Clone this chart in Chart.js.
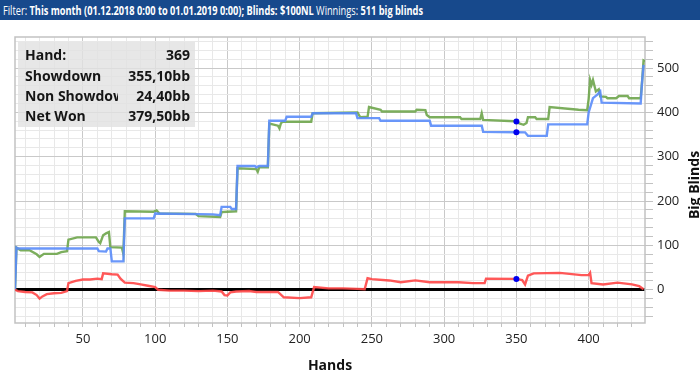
<!DOCTYPE html>
<html><head><meta charset="utf-8">
<script src="https://cdn.jsdelivr.net/npm/chart.js@4.4.1/dist/chart.umd.min.js"></script>
<style>
html,body{margin:0;padding:0;background:#fff;width:700px;height:381px;overflow:hidden;font-family:"Open Sans",sans-serif}
#hdr{position:absolute;left:0;top:0;width:700px;height:20px;background:#17498c;color:#fff;font-size:13px;line-height:20px;white-space:nowrap;overflow:hidden}
#hdrtxt{position:absolute;left:3px;top:0;transform-origin:0 50%;display:inline-block}
#hdrtxt b{font-weight:700}
#wrap{position:absolute;left:0;top:20px;width:700px;height:361px}
#info{position:absolute;left:18px;top:42px;width:177px;height:85px;background:rgba(226,226,226,0.82)}
.row{position:absolute;left:7px;width:165px;height:20px;line-height:20px;font-weight:700;font-size:14px;color:#151515}
.row .k{position:absolute;left:0;top:0;width:93px;overflow:hidden;white-space:nowrap}
.row .v{position:absolute;right:0;top:0;text-align:right}
</style>
</head><body>
<div id="hdr"><span id="hdrtxt">Filter: <b>This month (01.12.2018 0:00 to 01.01.2019 0:00); Blinds: $100NL</b> Winnings: <b>511 big blinds</b></span></div>
<div id="wrap"><canvas id="c" width="700" height="361"></canvas></div>
<div id="info">
 <div class="row" style="top:3px"><span class="k">Hand:</span><span class="v">369</span></div>
 <div class="row" style="top:24px"><span class="k">Showdown</span><span class="v">355,10bb</span></div>
 <div class="row" style="top:44px"><span class="k">Non Showdown</span><span class="v">24,40bb</span></div>
 <div class="row" style="top:64px"><span class="k">Net Won</span><span class="v">379,50bb</span></div>
</div>
<script>
// Showdown winnings (blue)
const showdownHands  = [3,4,5,60,61,66,67,69,70,78,79,99,100,140,145,146,152,153,156,157,169,170,172,178,179,190,191,208,209,239,240,255,256,290,291,326,327,350,356,358,371,372,399,400,403,406,408,409,436,437,438];
const showdownValues = [0,95,93,93,87,86,93,93,64,64,161,161,172,170,168,187,187,182,182,279,279,276,279,279,381,381,390,390,398,398,387,387,381,381,370,370,356,355.1,355,347,347,373,373,400,432,440,447,422,420,470,507];
// Non-showdown winnings (red)
const nonShowdownHands  = [3,5,10,15,18,20,22,25,30,35,39,40,45,50,55,60,63,64,70,74,76,79,85,90,95,100,102,110,120,130,140,146,148,150,152,156,165,170,185,189,200,208,210,220,230,240,245,247,250,262,270,280,290,310,320,328,329,350,354,356,358,362,380,395,400,401,402,410,420,430,435,438];
const nonShowdownValues = [0,-3,-5,-6,-12,-20,-15,-10,-8,-7,-3,15,20,23,23,25,24,37,35,34,25,16,15,12,9,6,0,-2,-2,-3,-2,-4,-12,-13,-6,-4,-3,-5,-5,-17,-19,-17,6,3,3,2,1,26,24,21,17,21,17,17,15,15,25,24.4,22,12,32,37,38,33,33,38,15,12,16,12,8,1];
// Net won (green)
const netHands  = [3,4,7,13,18,20,23,32,35,39,40,46,59,61,62,64,66,68,69,77,78,79,99,101,103,128,130,145,146,150,156,157,170,171,172,178,179,185,186,187,188,208,209,240,242,247,248,256,257,280,281,287,288,290,311,312,325,326,327,349,350,352,355,357,358,363,364,372,373,393,399,400,401,402,403,405,407,408,412,413,419,421,427,428,436,437,438,439];
const netValues = [0,95,89,89,80,74,81,81,85,87,113,118,118,108,105,123,127,130,96,95,81,177,176,179,172,171,166,164,175,176,177,274,272,266,276,276,375,370,364,375,379,379,398,400,389,390,412,406,402,402,406,405,394,389,389,385,385,398,383,380,379.5,375,372,376,389,389,385,385,412,406,405,430,473,462,473,447,452,436,435,432,432,437,437,432,432,470,517,515];
const markerHand = 350;
const xTickValues = [10,20,30,40,50,60,70,80,90,100,110,120,130,140,150,160,170,180,190,200,210,220,230,240,250,260,270,280,290,300,310,320,330,340,350,360,370,380,390,400,410,420,430];
const yTickValues = [-60,-40,-20,0,20,40,60,80,100,120,140,160,180,200,220,240,260,280,300,320,340,360,380,400,420,440,460,480,500,520,540,560];

function pts(h, v){ return h.map((x,i)=>({x:x, y:v[i]})); }
const FONT = '"Open Sans", sans-serif';
function ds(label, h, v, color){
  return {label, data: pts(h,v), borderColor: color, borderWidth: 2.4, tension: 0,
    pointRadius: c => (c.raw && c.raw.x === markerHand) ? 3 : 0,
    pointBackgroundColor: '#0000ee', pointBorderColor: '#0000ee', pointBorderWidth: 0};
}

const framePlugin = {
  id: 'frame',
  beforeDatasetsDraw(chart){
    const {ctx, chartArea:a} = chart;
    ctx.save();
    ctx.strokeStyle = '#c2c2c2'; ctx.lineWidth = 1.5;
    ctx.strokeRect(a.left, a.top, a.right - a.left, a.bottom - a.top);
    ctx.restore();
  },
  afterDraw(chart){
    const ctx = chart.ctx;
    ctx.save();
    ctx.translate(699, 165);
    ctx.rotate(-Math.PI/2);
    ctx.font = 'bold 14px ' + FONT;
    ctx.fillStyle = '#111';
    ctx.textAlign = 'center';
    ctx.textBaseline = 'alphabetic';
    ctx.fillText('Big Blinds', 0, 0);
    ctx.restore();
  }
};

new Chart(document.getElementById('c'), {
  type: 'line',
  data: { datasets: [
    ds('Non Showdown', nonShowdownHands, nonShowdownValues, 'rgba(255,70,70,0.9)'),
    ds('Showdown', showdownHands, showdownValues, 'rgba(90,140,250,0.9)'),
    ds('Net Won', netHands, netValues, 'rgba(110,165,75,0.9)')
  ]},
  options: {
    responsive: false, animation: false,
    layout: { padding: { left: 15, top: 17, right: 0, bottom: 0 } },
    plugins: { legend: { display: false }, tooltip: { enabled: false } },
    scales: {
      x: {
        type: 'linear', position: 'bottom', min: 3, max: 439,
        afterBuildTicks: s => { s.ticks = xTickValues.map(v => ({value: v})); },
        afterFit: s => { s.height = 58; },
        ticks: { autoSkip: false, maxRotation: 0, padding: 4, color: '#222',
          font: { size: 13, family: FONT },
          callback: v => (v % 50 === 0 ? String(v) : '') },
        grid: { color: c => (c.tick && c.tick.value % 50 === 0) ? '#c9c9c9' : '#e8e8e8',
          tickColor: '#c2c2c2', tickLength: 4, lineWidth: 1 },
        border: { display: false },
        title: { display: true, text: 'Hands', color: '#111',
          font: { size: 14, weight: 'bold', family: FONT }, padding: { top: 0, bottom: 6.6 } }
      },
      y: {
        type: 'linear', position: 'right', min: -75, max: 570,
        afterBuildTicks: s => { s.ticks = yTickValues.map(v => ({value: v})); },
        afterFit: s => { s.width = 55; },
        ticks: { autoSkip: false, padding: 4, color: '#222',
          font: { size: 13, family: FONT },
          callback: v => (v % 100 === 0 ? String(v) : '') },
        grid: {
          color: c => { const v = c.tick ? c.tick.value : 1; return v === 0 ? '#000' : (v % 100 === 0 ? '#c9c9c9' : '#e8e8e8'); },
          lineWidth: c => (c.tick && c.tick.value === 0) ? 3 : 1,
          tickColor: '#c2c2c2', tickWidth: 1, tickLength: 8 },
        border: { display: false }
      }
    }
  },
  plugins: [framePlugin]
});

function fitHeader(){
  const el = document.getElementById('hdrtxt');
  el.style.transform = 'none';
  const w = el.getBoundingClientRect().width;
  if (w > 0) el.style.transform = 'scaleX(' + (420 / w) + ')';
}
fitHeader();
if (document.fonts && document.fonts.ready) document.fonts.ready.then(fitHeader);
</script>
</body></html>
